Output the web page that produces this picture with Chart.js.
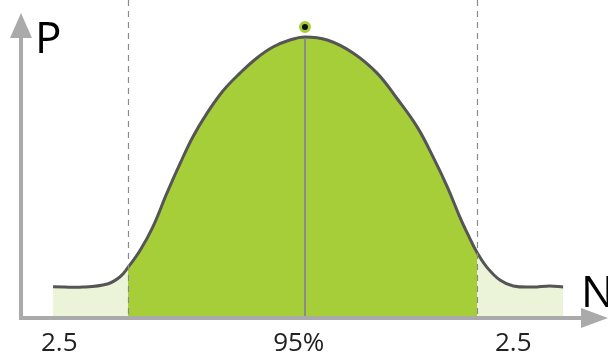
<!DOCTYPE html>
<html>
<head>
<meta charset="utf-8">
<script src="https://cdn.jsdelivr.net/npm/chart.js@4/dist/chart.umd.min.js"></script>
<style>
  html, body { margin: 0; padding: 0; background: #fff; }
  #wrap { position: relative; width: 608px; height: 352px; }
</style>
</head>
<body>
<div id="wrap"><canvas id="chart"></canvas></div>
<script>
// curve: N in sigma units, P relative to the peak
const curveN = [-2.83, -2.49, -2.22, -2.08, -1.99, -1.85, -1.71, -1.55, -1.40, -1.26, -1.10, -0.92, -0.73, -0.54, -0.36, -0.17, 0,
  0.25, 0.54, 0.81, 1.03, 1.26, 1.44, 1.60, 1.74, 1.85, 1.93, 2.04, 2.19, 2.34, 2.56, 2.75, 2.90]
const curveP = [0.108, 0.107, 0.118, 0.143, 0.176, 0.239, 0.321, 0.443, 0.550, 0.643, 0.728, 0.808, 0.871, 0.925, 0.964, 0.989, 1.0,
  0.989, 0.943, 0.871, 0.782, 0.679, 0.571, 0.464, 0.357, 0.282, 0.232, 0.179, 0.132, 0.111, 0.107, 0.111, 0.107]

const cutLow = -1.99
const cutHigh = 1.93
const peakN = 0
const peakP = 1.0
const markerP = 1.036

const bottomLabels = ['2.5', '95%', '2.5']
const bottomLabelN = [-2.76, -0.07, 2.34]

const GREEN = '#a6ce39'
const LIGHT = '#ebf4d9'
const AXIS = '#aaaaaa'
const FONT = '"Open Sans", "Noto Sans", sans-serif'

// fill colour: light tails, green between the two cuts
function areaFill(ctx) {
  const chart = ctx.chart
  const area = chart.chartArea
  if (!area) return GREEN
  const x = chart.scales.x
  const w = area.right - area.left
  const s1 = (x.getPixelForValue(cutLow) - area.left) / w
  const s2 = (x.getPixelForValue(cutHigh) - area.left) / w
  const g = chart.ctx.createLinearGradient(area.left, 0, area.right, 0)
  g.addColorStop(0, LIGHT)
  g.addColorStop(s1, LIGHT)
  g.addColorStop(s1, GREEN)
  g.addColorStop(s2, GREEN)
  g.addColorStop(s2, LIGHT)
  g.addColorStop(1, LIGHT)
  return g
}

const decorations = {
  id: 'decorations',
  afterDatasetsDraw(chart) {
    const c = chart.ctx
    const area = chart.chartArea
    const x = chart.scales.x
    const y = chart.scales.y
    const axisY = area.bottom
    const axisX = area.left

    c.save()
    // dashed cut lines
    c.strokeStyle = '#8a8a8a'
    c.lineWidth = 1.2
    c.setLineDash([6, 5])
    ;[cutLow, cutHigh].forEach(v => {
      const px = Math.round(x.getPixelForValue(v)) + 0.5
      c.beginPath()
      c.moveTo(px, 0)
      c.lineTo(px, axisY)
      c.stroke()
    })
    c.setLineDash([])

    // centre line
    c.strokeStyle = '#8a8a8a'
    c.lineWidth = 2
    const cx = x.getPixelForValue(peakN)
    c.beginPath()
    c.moveTo(cx, y.getPixelForValue(peakP) + 1)
    c.lineTo(cx, axisY)
    c.stroke()

    // axes with arrow heads
    c.strokeStyle = AXIS
    c.fillStyle = AXIS
    c.lineWidth = 4
    c.beginPath()
    c.moveTo(axisX, 38)
    c.lineTo(axisX, axisY + 1)
    c.lineTo(582, axisY + 1)
    c.stroke()
    c.beginPath()
    c.moveTo(axisX, 13)
    c.lineTo(axisX - 11, 38)
    c.lineTo(axisX + 11, 38)
    c.closePath()
    c.fill()
    c.beginPath()
    c.moveTo(608, axisY + 1)
    c.lineTo(581, axisY - 9)
    c.lineTo(581, axisY + 11)
    c.closePath()
    c.fill()

    // axis names
    c.fillStyle = '#000'
    c.font = '44px ' + FONT
    c.textAlign = 'left'
    c.textBaseline = 'alphabetic'
    c.fillText('P', 35, 53)
    c.fillText('N', 581, 307)

    // bottom labels
    c.fillStyle = '#222'
    c.font = '26px ' + FONT
    c.textAlign = 'center'
    bottomLabels.forEach((t, i) => {
      c.fillText(t, x.getPixelForValue(bottomLabelN[i]), 351)
    })
    c.restore()
  }
}

new Chart(document.getElementById('chart'), {
  type: 'line',
  data: {
    datasets: [
      {
        data: curveN.map((n, i) => ({ x: n, y: curveP[i] })),
        borderColor: '#555555',
        borderWidth: 3,
        backgroundColor: areaFill,
        fill: 'origin',
        pointRadius: 0,
        tension: 0.4,
        clip: false,
        order: 2
      },
      {
        data: [{ x: peakN, y: markerP }],
        showLine: false,
        pointRadius: 4.5,
        pointBackgroundColor: '#111',
        pointBorderColor: GREEN,
        pointBorderWidth: 3,
        clip: false,
        order: 1
      }
    ]
  },
  options: {
    responsive: true,
    maintainAspectRatio: false,
    animation: false,
    layout: { autoPadding: false, padding: { left: 21, right: 0, top: 0, bottom: 35 } },
    plugins: { legend: { display: false }, tooltip: { enabled: false } },
    scales: {
      x: { type: 'linear', min: -3.19, max: 3.404, display: false },
      y: { min: 0, max: 1.132, display: false }
    }
  },
  plugins: [decorations]
})
</script>
</body>
</html>
